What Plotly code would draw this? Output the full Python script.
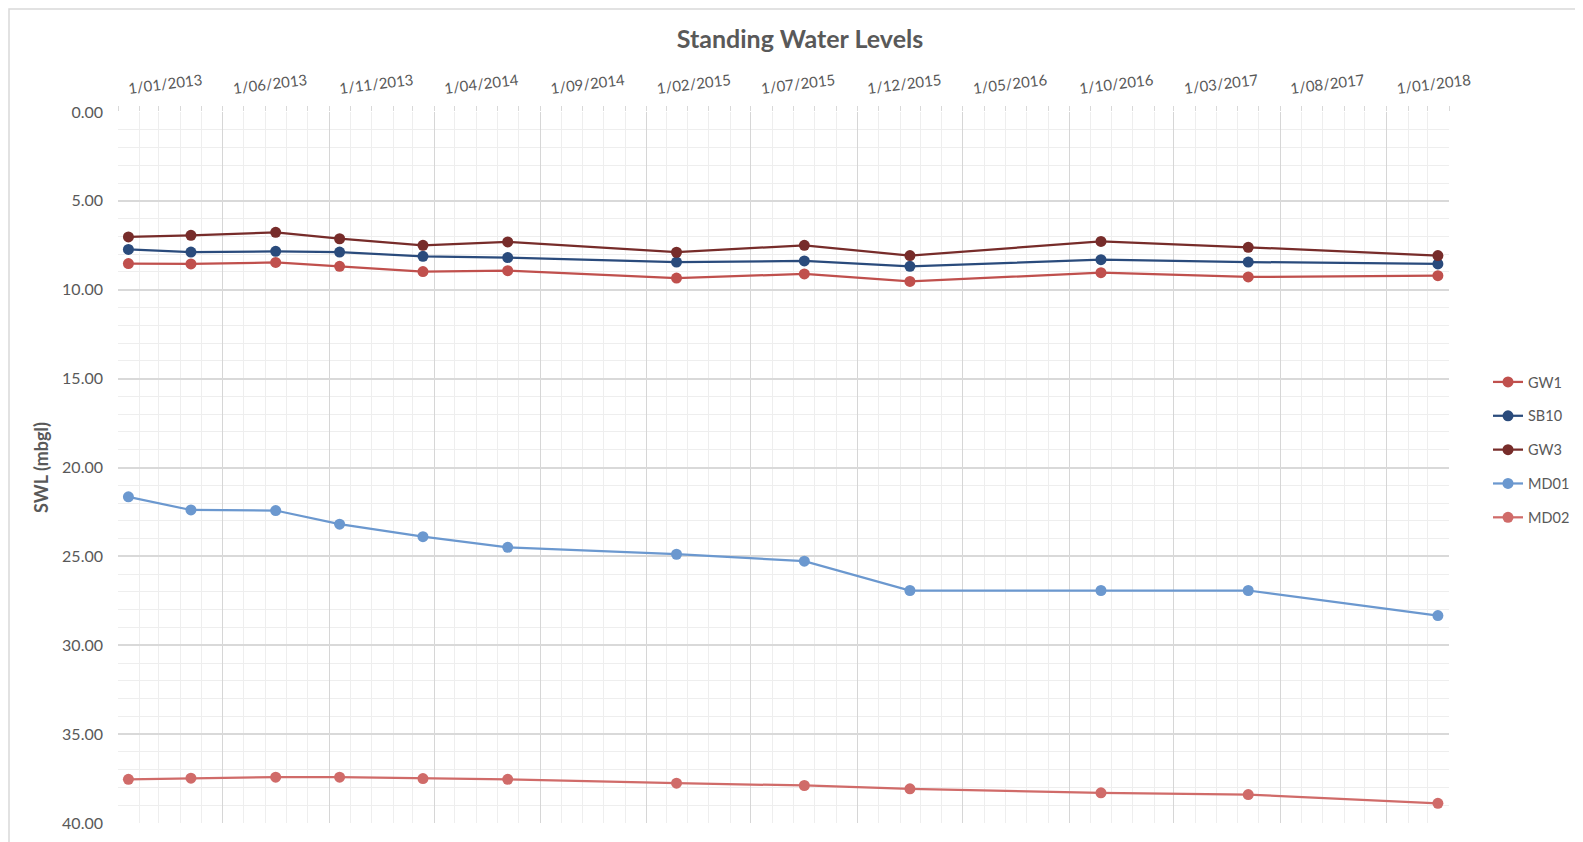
import plotly.graph_objects as go

# ---- data ----
dates = ["2013-01-16", "2013-04-16", "2013-08-16", "2013-11-16", "2014-03-16", "2014-07-16",
         "2015-03-16", "2015-09-16", "2016-02-15", "2016-11-16", "2017-06-16", "2018-03-16"]
gw1 = [8.53, 8.55, 8.46, 8.68, 8.98, 8.93, 9.34, 9.11, 9.53, 9.04, 9.28, 9.21]
sb10 = [7.73, 7.88, 7.84, 7.88, 8.12, 8.19, 8.44, 8.38, 8.68, 8.31, 8.44, 8.55]
gw3 = [7.03, 6.94, 6.77, 7.13, 7.50, 7.31, 7.89, 7.50, 8.08, 7.28, 7.61, 8.08]
md01 = [21.65, 22.39, 22.42, 23.19, 23.89, 24.49, 24.88, 25.27, 26.92, 26.92, 26.92, 28.33]
md02 = [37.54, 37.48, 37.42, 37.42, 37.50, 37.54, 37.76, 37.89, 38.08, 38.30, 38.40, 38.89]

tick_dates = ["2013-01-01", "2013-06-01", "2013-11-01", "2014-04-01", "2014-09-01", "2015-02-01",
              "2015-07-01", "2015-12-01", "2016-05-01", "2016-10-01", "2017-03-01", "2017-08-01",
              "2018-01-01"]
tick_labels = ["1/01/2013", "1/06/2013", "1/11/2013", "1/04/2014", "1/09/2014", "1/02/2015",
               "1/07/2015", "1/12/2015", "1/05/2016", "1/10/2016", "1/03/2017", "1/08/2017",
               "1/01/2018"]

series = [
    ("GW1", gw1, "#c0504d"),
    ("SB10", sb10, "#2a4b7c"),
    ("GW3", gw3, "#772c2a"),
    ("MD01", md01, "#6b98cf"),
    ("MD02", md02, "#d06b69"),
]

# page body has an 8px default margin, so the figure is 8px smaller
OFF = 8
W, H = 1583 - OFF, 842 - OFF
ML, MT = 110, 104
PR, PB = 1441, 815          # plot right / bottom in figure pixels
MR, MB = W - PR, H - PB
PW, PH = PR - ML, PB - MT
FONT = "Lato"
GREY = "#595959"

fig = go.Figure()
for name, vals, col in series:
    fig.add_trace(go.Scatter(
        x=dates, y=vals, name=name, mode="lines+markers", legendgroup=name,
        line=dict(color=col, width=2.25),
        marker=dict(color=col, size=11),
    ))

def px_x(p):
    return (p - ML) / PW

def px_y(p):
    return (PB - p) / PH

fig.update_layout(
    width=W, height=H,
    margin=dict(l=ML, r=MR, t=MT, b=MB, autoexpand=False),
    paper_bgcolor="white", plot_bgcolor="white",
    font=dict(family=FONT, color=GREY, size=15),
    title=dict(text="<b>Standing Water Levels</b>", x=792 / W, xanchor="center",
               y=1 - 31 / H, yanchor="middle", yref="container",
               font=dict(family=FONT, size=25, color=GREY)),
    legend=dict(x=px_x(1480), xanchor="left", y=px_y(442), yanchor="middle",
                font=dict(family=FONT, size=14.5, color=GREY), tracegroupgap=12,
                bgcolor="rgba(0,0,0,0)"),
    xaxis=dict(
        type="date", side="top", range=["2013-01-01", "2018-04-01"],
        tickmode="array", tickvals=tick_dates, ticktext=tick_labels,
        tickangle=-7, ticklabelshift=10, ticklabelstandoff=6,
        ticks="outside", ticklen=5, tickcolor="#d9d9d9",
        showgrid=True, gridcolor="#d6d6d6", gridwidth=1,
        minor=dict(tickmode="linear", tick0="2013-01-01", dtick="M1", showgrid=True,
                   gridcolor="#eeeeee", gridwidth=1, ticks="outside", ticklen=5,
                   tickcolor="#d9d9d9"),
        showline=False, zeroline=False,
        tickfont=dict(family=FONT, size=15, color=GREY),
    ),
    yaxis=dict(
        range=[40, 0], tickmode="linear", tick0=0, dtick=5, tickformat=".2f",
        showgrid=True, gridcolor="#d9d9d9", gridwidth=2,
        minor=dict(tickmode="linear", tick0=0, dtick=1, showgrid=True,
                   gridcolor="#eeeeee", gridwidth=1),
        showline=False, zeroline=False, ticks="", ticklabelstandoff=14,
        tickfont=dict(family=FONT, size=16, color=GREY),
        title=dict(text="<b>SWL (mbgl)</b>", standoff=8,
                   font=dict(family=FONT, size=18, color=GREY)),
    ),
    shapes=[dict(type="rect", xref="paper", yref="paper",
                 x0=px_x(1), x1=px_x(W + 20), y0=px_y(H + 20), y1=px_y(1),
                 line=dict(color="#d9d9d9", width=1.5), layer="below")],
)

fig.write_html("out.html")
